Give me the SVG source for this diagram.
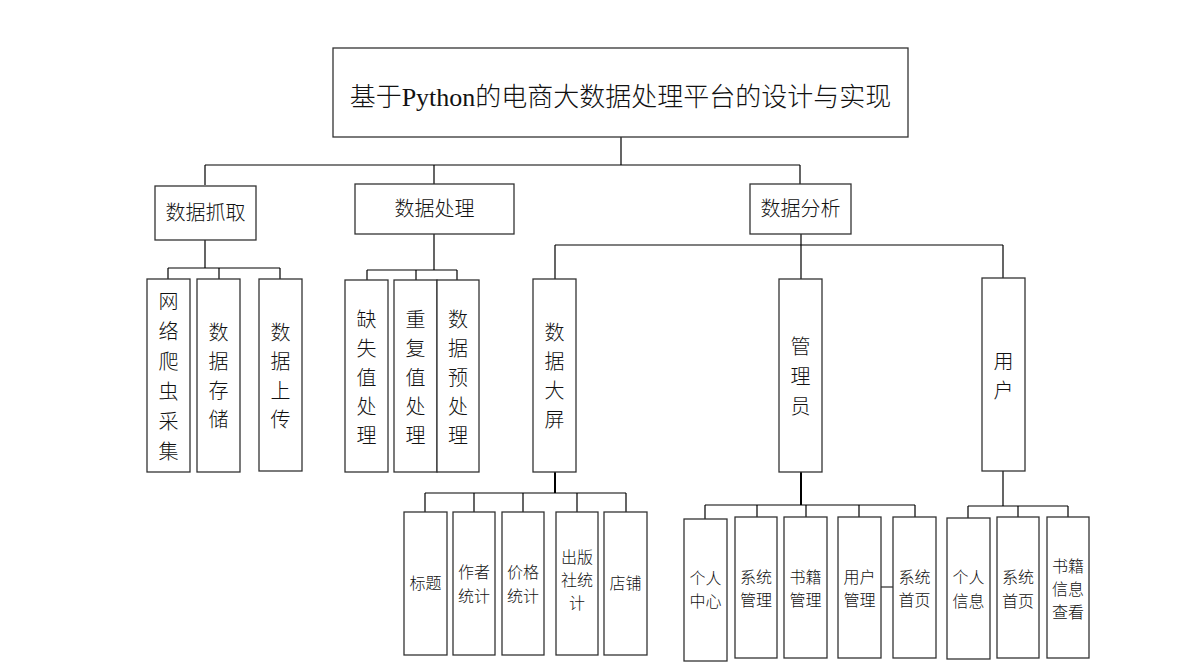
<svg xmlns="http://www.w3.org/2000/svg" width="1183" height="670" viewBox="0 0 1183 670">
<style>
.box{fill:#fff;stroke:#333;stroke-width:1.3}
.ln{fill:none;stroke:#000;stroke-width:1.2}
.t{font-family:"Noto Sans CJK SC",sans-serif;fill:#111;text-anchor:middle;font-weight:300}
.t20{font-size:20px}
.t16{font-size:16px}
.t26{font-size:26px}
.lat{font-family:"Liberation Serif",serif;font-weight:normal}
</style>
<rect width="1183" height="670" fill="#fff"/>
<g id="connectors">
<path class="ln" d="M621 137V165M205 165H800M205 165V185M434 165V184M800 165V184"/>
<path class="ln" d="M205 240V268M168 268H280M168 268V279M219 268V279M280 268V279"/>
<path class="ln" d="M434 234V270M367 270H457M367 270V280M416 270V280M457 270V280"/>
<path class="ln" d="M801 234V245M555 245H1003M555 245V279M801 245V279M1003 245V278"/>
<path class="ln" d="M425 493H626M425 493V512M474 493V512M523 493V512M577 493V512M626 493V512"/>
<path class="ln" d="M555 472V493" style="stroke-width:2"/>
<path class="ln" d="M705 505H915M705 505V519M757 505V517M806 505V517M859 505V517M915 505V517M881 587H893"/>
<path class="ln" d="M801 472V505" style="stroke-width:2"/>
<path class="ln" d="M1003 471V506M968 506H1068M968 506V518M1018 506V517M1068 506V517"/>
</g>
<g id="n-title"><rect class="box" x="333" y="48" width="575" height="89"/><text class="t t26" x="620.5" y="106">基于<tspan class="lat">Python</tspan>的电商大数据处理平台的设计与实现</text></g>
<g id="n-crawl"><rect class="box" x="155" y="186" width="101" height="54"/><text class="t t20" x="205.5" y="220">数据抓取</text></g>
<g id="n-process"><rect class="box" x="355" y="184" width="159" height="50"/><text class="t t20" x="434.5" y="216">数据处理</text></g>
<g id="n-analysis"><rect class="box" x="750" y="184" width="101" height="50"/><text class="t t20" x="800.5" y="216">数据分析</text></g>

<g id="n-spider"><rect class="box" x="147" y="279" width="43" height="193"/><text class="t t20" x="168.5" y="309"><tspan x="168.5">网</tspan><tspan x="168.5" dy="30">络</tspan><tspan x="168.5" dy="30">爬</tspan><tspan x="168.5" dy="30">虫</tspan><tspan x="168.5" dy="30">采</tspan><tspan x="168.5" dy="30">集</tspan></text></g>
<g id="n-store"><rect class="box" x="197" y="279" width="43" height="193"/><text class="t t20" x="218.5" y="340"><tspan x="218.5">数</tspan><tspan x="218.5" dy="29">据</tspan><tspan x="218.5" dy="29">存</tspan><tspan x="218.5" dy="29">储</tspan></text></g>
<g id="n-upload"><rect class="box" x="259" y="279" width="43" height="192"/><text class="t t20" x="280.5" y="340"><tspan x="280.5">数</tspan><tspan x="280.5" dy="29">据</tspan><tspan x="280.5" dy="29">上</tspan><tspan x="280.5" dy="29">传</tspan></text></g>

<g id="n-missing"><rect class="box" x="345" y="280" width="43" height="192"/><text class="t t20" x="366.5" y="327"><tspan x="366.5">缺</tspan><tspan x="366.5" dy="29">失</tspan><tspan x="366.5" dy="29">值</tspan><tspan x="366.5" dy="29">处</tspan><tspan x="366.5" dy="29">理</tspan></text></g>
<g id="n-dup"><rect class="box" x="394" y="280" width="43" height="192"/><text class="t t20" x="415.5" y="327"><tspan x="415.5">重</tspan><tspan x="415.5" dy="29">复</tspan><tspan x="415.5" dy="29">值</tspan><tspan x="415.5" dy="29">处</tspan><tspan x="415.5" dy="29">理</tspan></text></g>
<g id="n-pre"><rect class="box" x="437" y="280" width="42" height="192"/><text class="t t20" x="458" y="327"><tspan x="458">数</tspan><tspan x="458" dy="29">据</tspan><tspan x="458" dy="29">预</tspan><tspan x="458" dy="29">处</tspan><tspan x="458" dy="29">理</tspan></text></g>

<g id="n-screen"><rect class="box" x="533" y="279" width="43" height="193"/><text class="t t20" x="554.5" y="340"><tspan x="554.5">数</tspan><tspan x="554.5" dy="29">据</tspan><tspan x="554.5" dy="29">大</tspan><tspan x="554.5" dy="29">屏</tspan></text></g>
<g id="n-admin"><rect class="box" x="779" y="279" width="43" height="193"/><text class="t t20" x="800.5" y="354"><tspan x="800.5">管</tspan><tspan x="800.5" dy="30">理</tspan><tspan x="800.5" dy="30">员</tspan></text></g>
<g id="n-user"><rect class="box" x="982" y="278" width="43" height="193"/><text class="t t20" x="1003.5" y="369"><tspan x="1003.5">用</tspan><tspan x="1003.5" dy="29">户</tspan></text></g>

<g id="n-b1"><rect class="box" x="404" y="512" width="43" height="143"/><text class="t t16" x="425.5" y="589">标题</text></g>
<g id="n-b2"><rect class="box" x="453" y="512" width="42" height="143"/><text class="t t16" x="474" y="578"><tspan x="474">作者</tspan><tspan x="474" dy="24">统计</tspan></text></g>
<g id="n-b3"><rect class="box" x="502" y="512" width="42" height="143"/><text class="t t16" x="523" y="578"><tspan x="523">价格</tspan><tspan x="523" dy="24">统计</tspan></text></g>
<g id="n-b4"><rect class="box" x="556" y="512" width="42" height="143"/><text class="t t16" x="577" y="563"><tspan x="577">出版</tspan><tspan x="577" dy="23">社统</tspan><tspan x="577" dy="23">计</tspan></text></g>
<g id="n-b5"><rect class="box" x="604" y="512" width="43" height="143"/><text class="t t16" x="625.5" y="589">店铺</text></g>

<g id="n-a1"><rect class="box" x="684" y="519" width="43" height="142"/><text class="t t16" x="705.5" y="584"><tspan x="705.5">个人</tspan><tspan x="705.5" dy="23">中心</tspan></text></g>
<g id="n-a2"><rect class="box" x="735" y="517" width="42" height="141"/><text class="t t16" x="756" y="583"><tspan x="756">系统</tspan><tspan x="756" dy="23">管理</tspan></text></g>
<g id="n-a3"><rect class="box" x="784" y="517" width="43" height="141"/><text class="t t16" x="805.5" y="583"><tspan x="805.5">书籍</tspan><tspan x="805.5" dy="23">管理</tspan></text></g>
<g id="n-a4"><rect class="box" x="838" y="517" width="43" height="141"/><text class="t t16" x="859.5" y="583"><tspan x="859.5">用户</tspan><tspan x="859.5" dy="23">管理</tspan></text></g>
<g id="n-a5"><rect class="box" x="893" y="517" width="43" height="141"/><text class="t t16" x="914.5" y="583"><tspan x="914.5">系统</tspan><tspan x="914.5" dy="23">首页</tspan></text></g>

<g id="n-u1"><rect class="box" x="947" y="518" width="43" height="141"/><text class="t t16" x="968.5" y="583"><tspan x="968.5">个人</tspan><tspan x="968.5" dy="24">信息</tspan></text></g>
<g id="n-u2"><rect class="box" x="997" y="517" width="42" height="141"/><text class="t t16" x="1018" y="583"><tspan x="1018">系统</tspan><tspan x="1018" dy="24">首页</tspan></text></g>
<g id="n-u3"><rect class="box" x="1047" y="517" width="42" height="141"/><text class="t t16" x="1068" y="572"><tspan x="1068">书籍</tspan><tspan x="1068" dy="23">信息</tspan><tspan x="1068" dy="23">查看</tspan></text></g>
</svg>
